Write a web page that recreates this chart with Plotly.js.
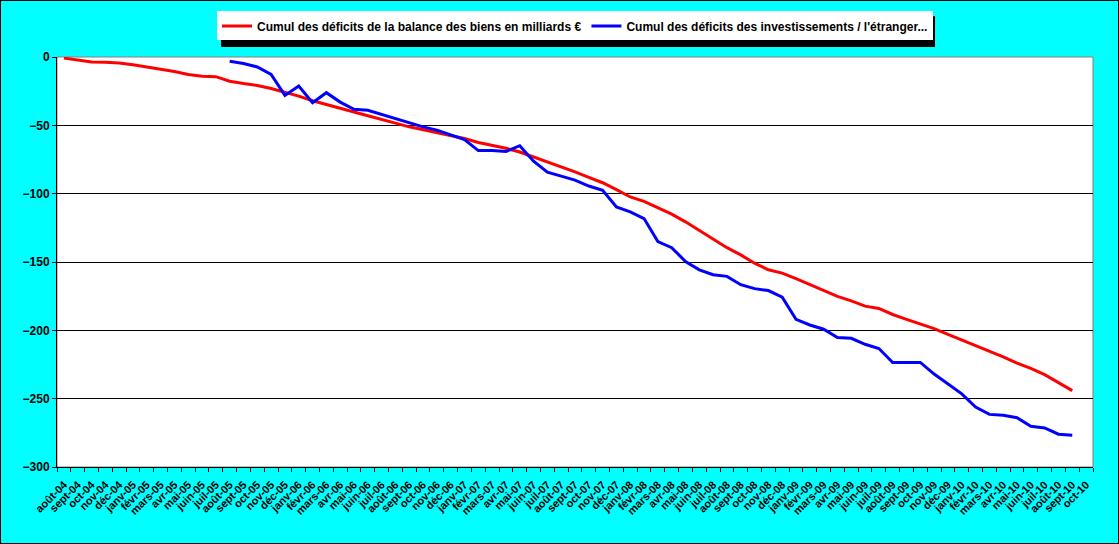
<!DOCTYPE html>
<html>
<head>
<meta charset="utf-8">
<script src="https://cdn.plot.ly/plotly-3.0.1.min.js"></script>
<style>
  body { margin: 0; background: #00FFFF; }
  #wrap { position: relative; width: 1119px; height: 544px; }
  #chart { width: 1119px; height: 544px; }
  #frame { position: absolute; left: 0; top: 0; width: 1119px; height: 544px;
           box-sizing: border-box; border: 1px solid #000; pointer-events: none; }
</style>
</head>
<body>
<div id="wrap">
  <div id="chart"></div>
  <div id="frame"></div>
</div>
<script>
// Months, août-04 .. oct-10
const months = [
  'août-04', 'sept-04', 'oct-04', 'nov-04', 'déc-04',
  'janv-05', 'févr-05', 'mars-05', 'avr-05', 'mai-05', 'juin-05', 'juil-05', 'août-05', 'sept-05', 'oct-05', 'nov-05', 'déc-05',
  'janv-06', 'févr-06', 'mars-06', 'avr-06', 'mai-06', 'juin-06', 'juil-06', 'août-06', 'sept-06', 'oct-06', 'nov-06', 'déc-06',
  'janv-07', 'févr-07', 'mars-07', 'avr-07', 'mai-07', 'juin-07', 'juil-07', 'août-07', 'sept-07', 'oct-07', 'nov-07', 'déc-07',
  'janv-08', 'févr-08', 'mars-08', 'avr-08', 'mai-08', 'juin-08', 'juil-08', 'août-08', 'sept-08', 'oct-08', 'nov-08', 'déc-08',
  'janv-09', 'févr-09', 'mars-09', 'avr-09', 'mai-09', 'juin-09', 'juil-09', 'août-09', 'sept-09', 'oct-09', 'nov-09', 'déc-09',
  'janv-10', 'févr-10', 'mars-10', 'avr-10', 'mai-10', 'juin-10', 'juil-10', 'août-10', 'sept-10', 'oct-10'
];

// Cumulated goods balance deficit (bn €)
const biens = [
  -0.8, -2.4, -3.6, -3.9, -4.4, -5.6, -7.3, -8.7, -10.6, -12.8, -14.0, -14.4,
  -17.7, -19.4, -20.8, -23.0, -25.7, -28.6, -32.0, -34.6, -37.5, -40.2, -43.0, -45.5,
  -48.4, -51.1, -53.3, -55.2, -57.6, -59.6, -62.5, -64.4, -66.8, -69.5, -73.0, -77.0,
  -80.5, -84.0, -88.0, -92.0, -97.0, -102.4, -105.6, -110.2, -115.0, -120.6, -127.1, -133.2,
  -139.5, -144.8, -150.9, -155.7, -158.1, -162.2, -166.6, -170.9, -175.1, -178.5, -182.3, -184.0,
  -188.4, -192.0, -195.2, -198.8, -202.9, -207.0, -210.9, -215.0, -219.4, -224.0, -227.9, -232.4,
  -238.0, -244.1, null
];

// Cumulated investment deficit abroad (starts août-05)
const invest = [
  null, null, null, null, null, null, null, null, null, null, null, null,
  -3.1, -4.8, -7.3, -12.8, -28.1, -21.3, -33.4, -26.1, -33.0, -38.3, -39.0, -42.0,
  -45.5, -48.5, -51.1, -53.5, -57.0, -60.5, -68.5, -68.5, -69.2, -64.9, -76.3, -84.3,
  -87.2, -90.1, -94.4, -97.6, -109.7, -113.3, -118.2, -135.1, -139.5, -149.6, -155.7, -159.3,
  -160.5, -166.6, -169.5, -170.9, -175.8, -192.0, -196.1, -199.2, -205.3, -205.8, -210.2, -213.3,
  -223.5, -223.5, -223.5, -232.0, -239.2, -246.5, -256.2, -261.5, -262.2, -263.9, -270.2, -271.4,
  -276.0, -276.7, null
];

const seriesNames = [
  'Cumul des déficits de la balance des biens en milliards €',
  "Cumul des déficits des investissements / l'étranger..."
];

const fontFamily = 'Liberation Sans, Arial, sans-serif';

const traces = [
  {
    x: months, y: biens, name: seriesNames[0],
    type: 'scatter', mode: 'lines',
    line: { color: '#FF0000', width: 3 }
  },
  {
    x: months, y: invest, name: seriesNames[1],
    type: 'scatter', mode: 'lines',
    line: { color: '#0000FF', width: 3 }
  }
];

const layout = {
  width: 1119,
  height: 544,
  paper_bgcolor: '#00FFFF',
  plot_bgcolor: '#FFFFFF',
  font: { family: fontFamily, color: '#000', weight: 'bold' },
  margin: { l: 57, r: 26, t: 54, b: 77 },
  showlegend: true,
  legend: {
    orientation: 'h',
    x: 0.5, xanchor: 'center',
    y: 1.111, yanchor: 'top',
    bgcolor: '#FFFFFF',
    borderwidth: 0,
    font: { family: fontFamily, size: 12, color: '#000', weight: 'bold' },
    itemwidth: 30
  },
  xaxis: {
    type: 'category',
    range: [-0.5, months.length - 0.5],
    tickson: 'boundaries',
    ticks: 'outside', ticklen: 4, tickcolor: '#000', tickwidth: 1,
    tickangle: -45,
    ticklabelstandoff: 6,
    tickfont: { family: fontFamily, size: 11, color: '#000', weight: 'bold' },
    showgrid: false,
    showline: true, linecolor: '#000', linewidth: 1,
    zeroline: false,
    automargin: false
  },
  yaxis: {
    range: [-300, 0],
    dtick: 50,
    ticks: 'outside', ticklen: 4, tickcolor: '#000',
    tickfont: { family: fontFamily, size: 12, color: '#000', weight: 'bold' },
    showgrid: true, gridcolor: '#000', gridwidth: 1,
    showline: true, linecolor: '#000', linewidth: 1,
    zeroline: false,
    automargin: false
  },
  shapes: [
    // grey plot-area border (top/right)
    { type: 'rect', xref: 'paper', yref: 'paper', x0: 0, x1: 1, y0: 0, y1: 1,
      line: { color: '#808080', width: 1 }, layer: 'below' },
    // legend drop shadow
    { type: 'rect', xref: 'paper', yref: 'paper',
      x0: 0.1583, x1: 0.8475, y0: 1.0242, y1: 1.0993,
      fillcolor: '#000', line: { width: 0 }, layer: 'below' }
  ]
};

Plotly.newPlot('chart', traces, layout, { displayModeBar: false, staticPlot: true });
</script>
</body>
</html>
